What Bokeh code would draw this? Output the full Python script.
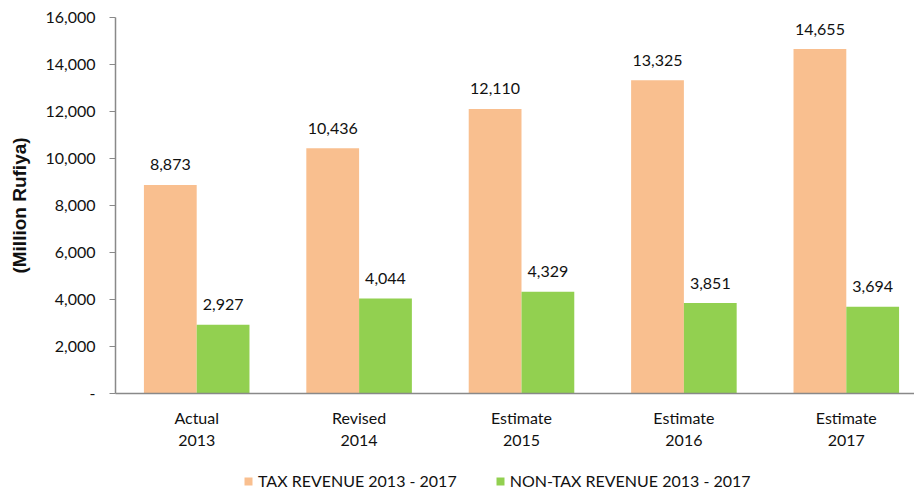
from bokeh.plotting import figure
from bokeh.layouts import column
from bokeh.models import ColumnDataSource, FixedTicker, NumeralTickFormatter, Range1d, Legend, LegendItem
from bokeh.core.properties import value
from bokeh.embed import file_html
from bokeh.resources import INLINE

categories = ["Actual\n2013", "Revised\n2014", "Estimate\n2015", "Estimate\n2016", "Estimate\n2017"]
tax_revenue = [8873, 10436, 12110, 13325, 14655]
non_tax_revenue = [2927, 4044, 4329, 3851, 3694]
y_ticks = [0, 2000, 4000, 6000, 8000, 10000, 12000, 14000, 16000]
series_names = ["TAX REVENUE 2013 - 2017", "NON-TAX REVENUE 2013 - 2017"]

FONT = "Lato"
ORANGE = "#F9BF8F"
GREEN = "#92D050"
AXIS = "#898989"

xs = list(range(1, len(categories) + 1))
bw = 0.325
src = ColumnDataSource(dict(
    x=xs,
    xt=[x - bw / 2 for x in xs],
    xn=[x + bw / 2 for x in xs],
    tax=tax_revenue,
    non=non_tax_revenue,
    tax_lbl=[f"{v:,}" for v in tax_revenue],
    non_lbl=[f"{v:,}" for v in non_tax_revenue],
))

p = figure(width=914, height=464, output_backend="svg", toolbar_location=None,
           x_range=Range1d(0.5, 5.42), y_range=Range1d(0, 16000),
           min_border_left=115, min_border_top=17, min_border_right=0, min_border_bottom=71)
p.outline_line_color = None
p.xgrid.visible = False
p.ygrid.visible = False

p.vbar(x="xt", top="tax", width=bw, source=src, fill_color=ORANGE, line_color=None)
p.vbar(x="xn", top="non", width=bw, source=src, fill_color=GREEN, line_color=None)

p.text(x="xt", y="tax", text="tax_lbl", source=src, text_align="center", text_baseline="alphabetic",
       y_offset=-20, text_font=value(FONT), text_font_size="16px", text_color="#111111")
p.text(x="xn", y="non", text="non_lbl", source=src, text_align="center", text_baseline="alphabetic",
       y_offset=-20, text_font=value(FONT), text_font_size="16px", text_color="#111111")

# y axis
ya = p.yaxis[0]
ya.ticker = FixedTicker(ticks=y_ticks)
ya.formatter = NumeralTickFormatter(format="0,0")
ya.major_label_overrides = {0: "-"}
ya.axis_line_color = AXIS
ya.axis_line_width = 1.5
ya.major_tick_line_color = AXIS
ya.major_tick_in = 0
ya.major_tick_out = 6
ya.minor_tick_line_color = None
ya.major_label_standoff = 14
ya.major_label_text_font = FONT
ya.major_label_text_font_size = "16px"
ya.major_label_text_color = "#111111"
ya.axis_label = "(Million Rufiya)"
ya.axis_label_text_font = "Liberation Sans"
ya.axis_label_text_font_style = "bold"
ya.axis_label_text_font_size = "19px"
ya.axis_label_text_color = "#111111"
ya.axis_label_standoff = 12

# x axis
xa = p.xaxis[0]
xa.ticker = FixedTicker(ticks=xs)
xa.major_label_overrides = {x: c for x, c in zip(xs, categories)}
xa.axis_line_color = AXIS
xa.axis_line_width = 1.5
xa.major_tick_line_color = None
xa.minor_tick_line_color = None
xa.major_label_standoff = 8
xa.major_label_text_font = FONT
xa.major_label_text_font_size = "16px"
xa.major_label_text_color = "#111111"
xa.major_label_text_line_height = 1.2

# legend strip
pl = figure(width=914, height=26, output_backend="svg", toolbar_location=None,
            x_range=Range1d(0, 1), y_range=Range1d(0, 1),
            min_border_left=0, min_border_right=0, min_border_top=0, min_border_bottom=0)
pl.axis.visible = False
pl.xgrid.visible = False
pl.ygrid.visible = False
pl.outline_line_color = None
lr_tax = pl.vbar(x=[5], top=[1], width=0.1, fill_color=ORANGE, line_color=None)
lr_non = pl.vbar(x=[6], top=[1], width=0.1, fill_color=GREEN, line_color=None)

legend = Legend(items=[LegendItem(label=series_names[0], renderers=[lr_tax]),
                       LegendItem(label=series_names[1], renderers=[lr_non])],
                orientation="horizontal", location=(128, 0),
                glyph_width=10, glyph_height=10, label_standoff=5, spacing=38,
                label_text_font=FONT, label_text_font_size="16px", label_text_color="#111111",
                border_line_color=None, background_fill_alpha=0, padding=2, margin=0)
pl.add_layout(legend, "center")

layout = column(p, pl, spacing=0)
open("out.html", "w").write(file_html(layout, INLINE))
